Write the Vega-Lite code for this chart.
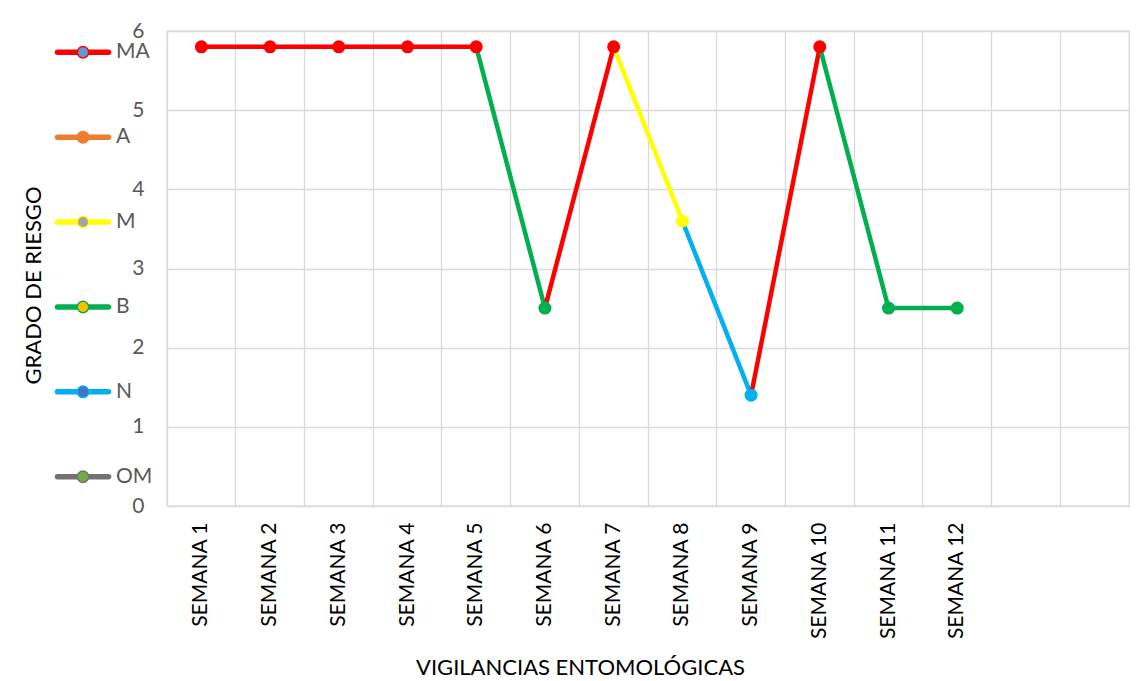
{
  "$schema": "https://vega.github.io/schema/vega-lite/v6.json",
  "width": 962,
  "height": 475,
  "autosize": "none",
  "padding": {"left": 167, "top": 31, "right": 18, "bottom": 175},
  "background": "white",
  "config": {"view": {"stroke": "#D9D9D9", "strokeWidth": 1.3}, "font": "Lato"},
  "datasets": {
    "vigilancias": [
      {"semana": "SEMANA 1", "riesgo": 5.8, "nivel": "MA"},
      {"semana": "SEMANA 2", "riesgo": 5.8, "nivel": "MA"},
      {"semana": "SEMANA 3", "riesgo": 5.8, "nivel": "MA"},
      {"semana": "SEMANA 4", "riesgo": 5.8, "nivel": "MA"},
      {"semana": "SEMANA 5", "riesgo": 5.8, "nivel": "MA"},
      {"semana": "SEMANA 6", "riesgo": 2.5, "nivel": "B"},
      {"semana": "SEMANA 7", "riesgo": 5.8, "nivel": "MA"},
      {"semana": "SEMANA 8", "riesgo": 3.6, "nivel": "M"},
      {"semana": "SEMANA 9", "riesgo": 1.4, "nivel": "N"},
      {"semana": "SEMANA 10", "riesgo": 5.8, "nivel": "MA"},
      {"semana": "SEMANA 11", "riesgo": 2.5, "nivel": "B"},
      {"semana": "SEMANA 12", "riesgo": 2.5, "nivel": "B"}
    ],
    "leyenda": [
      {"nivel": "MA"},
      {"nivel": "A"},
      {"nivel": "M"},
      {"nivel": "B"},
      {"nivel": "N"},
      {"nivel": "OM"}
    ]
  },
  "layer": [
    {
      "data": {"name": "vigilancias"},
      "layer": [
        {
          "transform": [
            {"window": [
              {"op": "lead", "field": "semana", "as": "sig_semana"},
              {"op": "lead", "field": "riesgo", "as": "sig_riesgo"},
              {"op": "lead", "field": "nivel", "as": "sig_nivel"}
            ]},
            {"filter": "datum.sig_semana != null"}
          ],
          "mark": {"type": "rule", "strokeWidth": 4.5, "strokeCap": "round"},
          "encoding": {
            "x": {
              "field": "semana",
              "type": "nominal",
              "sort": null,
              "bandPosition": 0.5,
              "scale": {
                "type": "band",
                "domain": ["SEMANA 1", "SEMANA 2", "SEMANA 3", "SEMANA 4", "SEMANA 5", "SEMANA 6", "SEMANA 7", "SEMANA 8", "SEMANA 9", "SEMANA 10", "SEMANA 11", "SEMANA 12", " ", "  "],
                "paddingInner": 0,
                "paddingOuter": 0
              },
              "axis": {
                "title": "VIGILANCIAS ENTOMOLÓGICAS",
                "labelAngle": -90,
                "labelAlign": "right",
                "labelBaseline": "middle",
                "labelPadding": 16,
                "labelFontSize": 21,
                "labelColor": "#000000",
                "ticks": false,
                "domain": false,
                "grid": true,
                "bandPosition": 0,
                "gridColor": "#D9D9D9",
                "gridWidth": 1.3,
                "titleFontSize": 22,
                "titleFontWeight": "normal",
                "titleColor": "#000000",
                "titleX": 413,
                "titleY": 161,
                "titleAlign": "center",
                "titleBaseline": "middle"
              }
            },
            "x2": {"field": "sig_semana", "bandPosition": 0.5},
            "y": {
              "field": "riesgo",
              "type": "quantitative",
              "scale": {"domain": [0, 6], "nice": false},
              "axis": {
                "title": "GRADO DE RIESGO",
                "values": [0, 1, 2, 3, 4, 5, 6],
                "format": "d",
                "labelFontSize": 21,
                "labelColor": "#595959",
                "labelPadding": 23,
                "ticks": false,
                "domain": false,
                "grid": true,
                "gridColor": "#D9D9D9",
                "gridWidth": 1.3,
                "titleFontSize": 22,
                "titleFontWeight": "normal",
                "titleColor": "#000000",
                "titleAngle": -90,
                "titleX": -134,
                "titleY": 254,
                "titleAlign": "center",
                "titleBaseline": "middle"
              }
            },
            "y2": {"field": "sig_riesgo"},
            "color": {
              "field": "sig_nivel",
              "type": "nominal",
              "scale": {
                "domain": ["MA", "A", "M", "B", "N", "OM"],
                "range": ["#FF0000", "#ED7D31", "#FFFF00", "#00B050", "#00B0F0", "#767171"]
              },
              "legend": null
            }
          }
        },
        {
          "mark": {"type": "circle", "size": 170, "opacity": 1},
          "encoding": {
            "x": {"field": "semana", "type": "nominal", "sort": null, "bandPosition": 0.5},
            "y": {"field": "riesgo", "type": "quantitative"},
            "color": {"field": "nivel", "type": "nominal", "legend": null}
          }
        }
      ]
    },
    {
      "data": {"name": "leyenda"},
      "encoding": {
        "y": {
          "field": "nivel",
          "type": "nominal",
          "sort": null,
          "scale": {"type": "point", "domain": ["MA", "A", "M", "B", "N", "OM"], "range": [21.3, 445.7], "padding": 0},
          "axis": null
        }
      },
      "layer": [
        {
          "mark": {"type": "rule", "strokeWidth": 5.5, "strokeCap": "round"},
          "encoding": {
            "x": {"datum": 0, "type": "quantitative", "scale": {"domain": [0, 1], "range": [-109.5, -58.5]}, "axis": null},
            "x2": {"datum": 1},
            "stroke": {
              "field": "nivel",
              "type": "nominal",
              "scale": {
                "domain": ["MA", "A", "M", "B", "N", "OM"],
                "range": ["#FF0000", "#ED7D31", "#FFFF00", "#00B050", "#00B0F0", "#767171"]
              },
              "legend": null
            }
          }
        },
        {
          "mark": {"type": "circle", "size": 130, "strokeWidth": 1.5, "opacity": 1},
          "encoding": {
            "x": {"datum": 0.5, "type": "quantitative"},
            "fill": {
              "field": "nivel",
              "type": "nominal",
              "scale": {
                "domain": ["MA", "A", "M", "B", "N", "OM"],
                "range": ["#5B9BD5", "#ED7D31", "#A5A5A5", "#FFC000", "#4472C4", "#70AD47"]
              },
              "legend": null
            },
            "stroke": {"field": "nivel", "type": "nominal", "legend": null}
          }
        },
        {
          "mark": {"type": "text", "align": "left", "baseline": "middle", "dx": 7.5, "fontSize": 21, "color": "#595959"},
          "encoding": {
            "x": {"datum": 1, "type": "quantitative"},
            "text": {"field": "nivel"}
          }
        }
      ]
    }
  ],
  "resolve": {"scale": {"x": "independent", "y": "independent"}}
}
